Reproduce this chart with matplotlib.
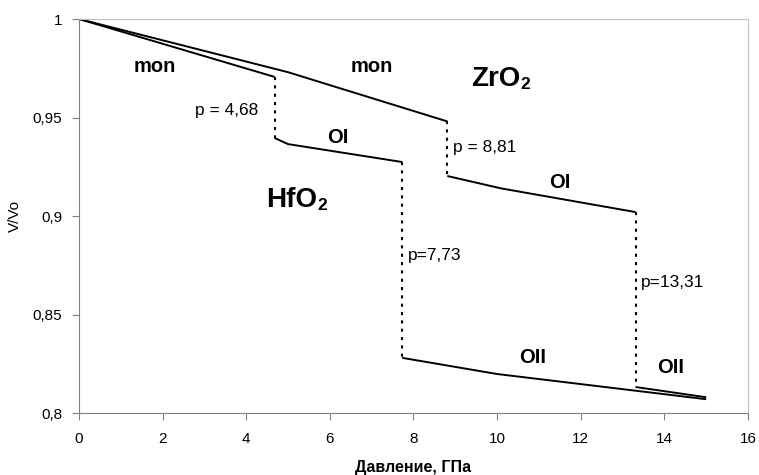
import numpy as np
import matplotlib
matplotlib.use("Agg")
import matplotlib.pyplot as plt

plt.rcParams['font.family'] = ['Liberation Sans', 'DejaVu Sans']

# HfO2 phases (pressure, GPa ; V/Vo)
hf_mon_x = [0.0, 4.68]
hf_mon_y = [1.0, 0.9706]
hf_oi_x = [4.68, 5.0, 7.73]
hf_oi_y = [0.9396, 0.9365, 0.9274]
hf_oii_x = [7.73, 10.0, 15.0]
hf_oii_y = [0.828, 0.8198, 0.807]

# ZrO2 phases
zr_mon_x = [0.0, 5.0, 8.81]
zr_mon_y = [1.0, 0.973, 0.948]
zr_oi_x = [8.81, 10.1, 13.31]
zr_oi_y = [0.9203, 0.914, 0.902]
zr_oii_x = [13.31, 15.0]
zr_oii_y = [0.8132, 0.808]

# transition pressures and jumps
p_trans = [4.68, 7.73, 8.81, 13.31]
v_before = [0.9706, 0.9274, 0.948, 0.902]
v_after = [0.9396, 0.828, 0.9203, 0.8132]

fig = plt.figure(figsize=(7.59, 4.75), dpi=100)
ax = fig.add_axes([0.104, 0.1305, 0.8815, 0.8295])

for xs, ys in [(hf_mon_x, hf_mon_y), (hf_oi_x, hf_oi_y), (hf_oii_x, hf_oii_y),
               (zr_mon_x, zr_mon_y), (zr_oi_x, zr_oi_y), (zr_oii_x, zr_oii_y)]:
    ax.plot(xs, ys, color='black', lw=1.4, solid_capstyle='butt')

for p, a, b in zip(p_trans, v_before, v_after):
    ax.plot([p, p], [a, b], color='black', lw=1.5, ls=(0, (1.5, 2.5)))

# phase labels
lab = dict(fontsize=14.5, fontweight='bold', ha='center', va='center')
ax.text(1.82, 0.9757, 'mon', **lab)
ax.text(7.0, 0.9757, 'mon', **lab)
ax.text(6.2, 0.940, 'OI', **lab)
ax.text(11.5, 0.917, 'OI', **lab)
ax.text(10.84, 0.828, 'OII', **lab)
ax.text(14.14, 0.823, 'OII', **lab)


def formula(x, y, base):
    t = ax.text(x, y, base, fontsize=20, fontweight='bold', ha='right', va='baseline')
    ax.annotate('2', xy=(1, 0), xycoords=t, xytext=(0.5, 0), textcoords='offset points',
                fontsize=12.5, fontweight='bold', ha='left', va='bottom')


formula(10.55, 0.966, 'ZrO')
formula(5.69, 0.9046, 'HfO')

pl = dict(fontsize=12.5, va='center')
ax.text(3.53, 0.9538, 'p = 4,68', ha='center', **pl)
ax.text(8.95, 0.935, 'p = 8,81', ha='left', **pl)
ax.text(7.86, 0.8797, 'p=7,73', ha='left', **pl)
ax.text(13.45, 0.866, 'p=13,31', ha='left', **pl)

ax.set_xlim(0, 16)
ax.set_ylim(0.8, 1.0)
ax.set_xticks(np.arange(0, 17, 2))
yt = [0.8, 0.85, 0.9, 0.95, 1.0]
ax.set_yticks(yt)
ax.set_yticklabels(['0,8', '0,85', '0,9', '0,95', '1'])
ax.tick_params(axis='both', labelsize=11, color='#808080', length=5, direction='out')
ax.tick_params(axis='x', pad=9)
ax.tick_params(axis='y', pad=7)

ax.spines['left'].set_color('#808080')
ax.spines['bottom'].set_color('#808080')
ax.spines['top'].set_color('#c0c0c0')
ax.spines['right'].set_color('#c0c0c0')

ax.set_xlabel('Давление, ГПа', fontsize=11.5, fontweight='bold', labelpad=10)
ax.set_ylabel('V/Vo', fontsize=11, labelpad=8)

fig.savefig('out.png', dpi=100)
